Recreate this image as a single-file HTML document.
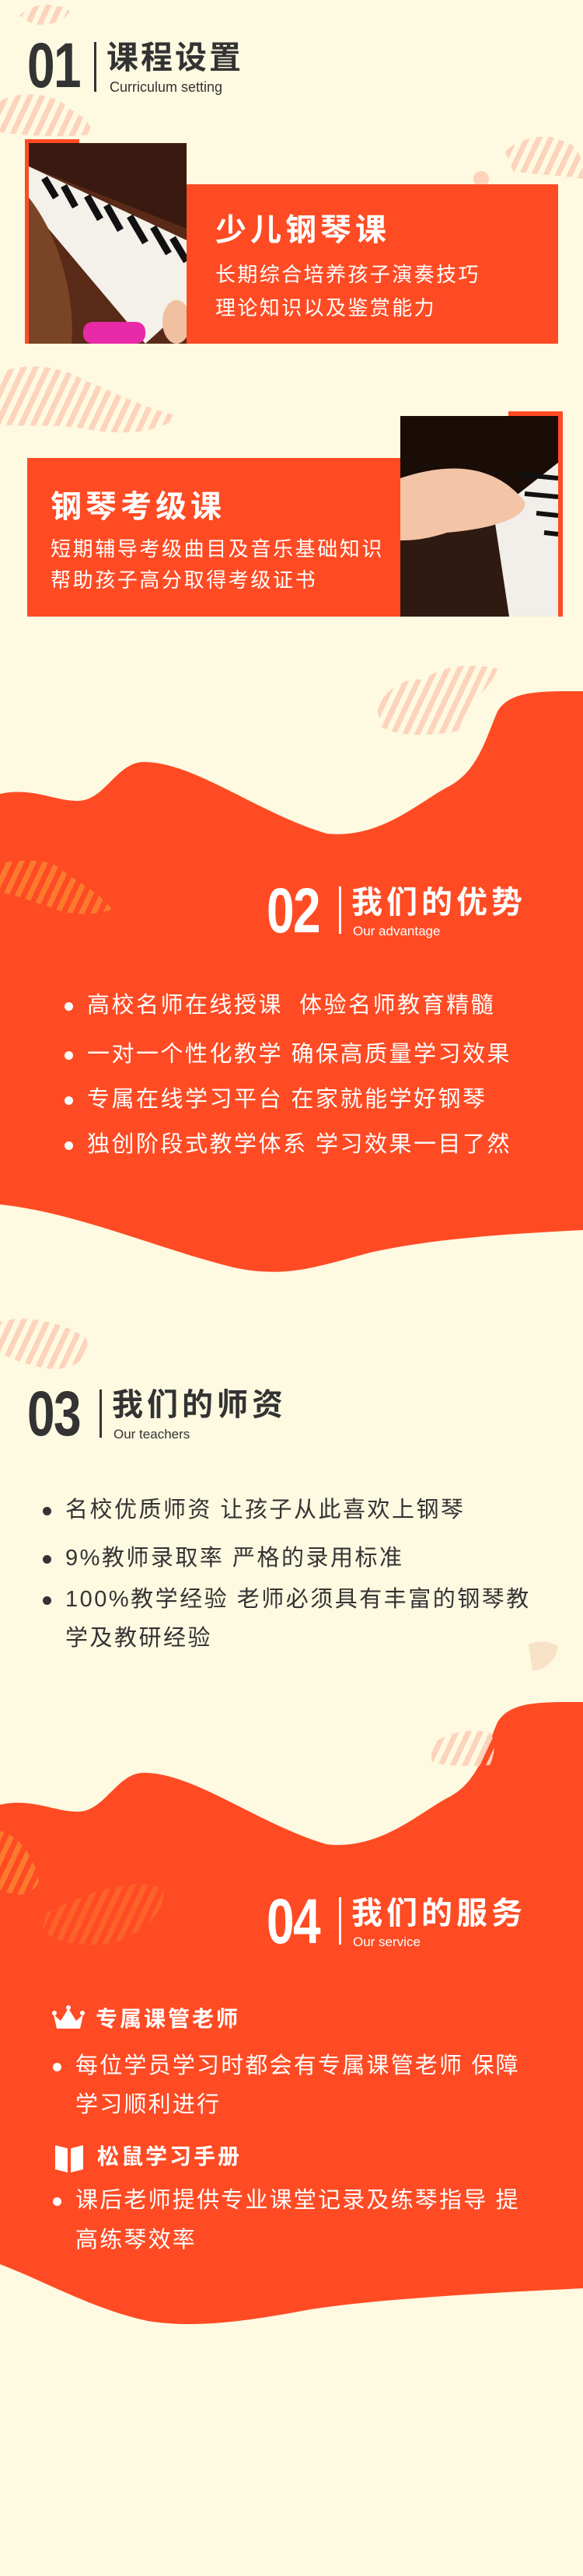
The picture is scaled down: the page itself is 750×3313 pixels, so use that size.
<!DOCTYPE html>
<html><head><meta charset="utf-8"><style>
*{margin:0;padding:0;box-sizing:border-box}
body{width:750px;height:3313px;background:#fef9e1;position:relative;overflow:hidden;font-family:"Liberation Sans","Noto Sans CJK SC",sans-serif}
.a{position:absolute}
.num{position:absolute;font-weight:bold;font-size:82px;line-height:1;transform:scaleX(.78);transform-origin:left top;letter-spacing:-2px}
.ttl{position:absolute;font-weight:bold;font-size:40px;line-height:1;letter-spacing:3px;white-space:nowrap}
.sub{position:absolute;font-size:18px;line-height:1;white-space:nowrap}
.div{position:absolute;width:3px}
.li{position:absolute;font-size:29px;line-height:1;letter-spacing:2.5px;white-space:nowrap}
.dot{position:absolute;width:11px;height:11px;border-radius:50%}
.w{color:#fff}.d{color:#333}
</style></head><body>
<svg class="a" style="left:0;top:0" width="750" height="3313">
<defs>
<pattern id="st" width="14" height="14" patternUnits="userSpaceOnUse" patternTransform="rotate(25)"><rect width="7" height="14" fill="#fdd3bb"/></pattern>
<pattern id="so" width="14" height="14" patternUnits="userSpaceOnUse" patternTransform="rotate(25)"><rect width="7" height="14" fill="#fb7a2e"/></pattern>
</defs>
<path d="M25,20 C40,5 70,0 90,15 C80,30 55,35 40,30 Z" fill="url(#st)"/>
<path d="M0,130 C30,115 70,120 90,140 C105,150 115,155 120,172 C90,178 40,175 0,170 Z" fill="url(#st)"/>
<path d="M650,195 C670,175 705,172 720,180 C740,185 750,195 750,230 C720,225 690,225 660,220 Z" fill="url(#st)"/>
<circle cx="619" cy="230" r="10" fill="#fdd3bb"/>
<path d="M0,480 C30,465 80,470 110,490 C140,500 170,520 230,535 C200,560 150,560 100,550 C60,545 20,550 0,545 Z" fill="url(#st)"/>
<path d="M0,1021 C40,1012 70,1030 100,1030 C135,1030 150,980 185,980 C250,980 330,1045 420,1072 C490,1080 540,1030 580,1010 C615,990 625,950 640,915 C655,890 690,890 720,889 L750,889 L750,1582 C650,1587 560,1593 480,1610 C410,1628 370,1645 300,1630 C200,1605 100,1560 0,1549 Z" fill="#fe4b24"/>
<path d="M485,910 C500,880 530,870 545,875 C560,860 600,850 640,860 C630,890 600,900 590,940 C560,945 520,950 490,935 Z" fill="url(#st)"/>
<path d="M0,1110 C30,1105 60,1105 75,1115 C90,1130 120,1140 145,1170 C110,1180 80,1175 60,1165 C40,1160 20,1150 0,1148 Z" fill="url(#so)"/>
<path d="M0,1700 C30,1690 80,1700 110,1720 C120,1740 100,1765 60,1760 C30,1755 10,1745 0,1740 Z" fill="url(#st)"/>
<path d="M0,2321 C40,2312 70,2330 100,2330 C135,2330 150,2280 185,2280 C250,2280 330,2345 420,2372 C490,2380 540,2330 580,2310 C615,2290 625,2250 640,2215 C655,2190 690,2190 720,2189 L750,2189 L750,2943 C650,2948 500,2955 400,2970 C320,2985 250,2995 190,2985 C120,2970 60,2935 0,2912 Z" fill="#fe4b24"/>
<path d="M555,2245 C570,2230 600,2222 630,2228 C640,2240 635,2260 630,2270 C600,2272 570,2272 555,2265 Z" fill="url(#st)"/>
<path d="M0,2355 C25,2360 45,2390 50,2420 C40,2440 20,2440 0,2430 Z" fill="url(#so)"/>
<path d="M60,2460 C100,2440 170,2410 210,2430 C215,2460 180,2490 140,2500 C100,2505 60,2495 55,2480 Z" fill="url(#so)" opacity=".5"/>
<path d="M680,2115 C690,2110 710,2110 718,2118 C715,2135 700,2150 685,2148 Z" fill="#f7e2c8"/>
</svg>

<div class="num d" style="left:35px;top:44px">01</div>
<div class="div" style="left:121px;top:54px;height:64px;background:#333"></div>
<div class="ttl d" style="left:137px;top:54px;font-size:41px">课程设置</div>
<div class="sub d" style="left:141px;top:103px">Curriculum setting</div>

<div class="a" style="left:32px;top:179px;width:70px;height:263px;background:#fe4b24"></div>
<svg class="a" style="left:37px;top:184px" width="203" height="258">
<rect width="203" height="258" fill="#3a1a10"/>
<polygon points="0,30 203,110 203,258 0,258" fill="#5a2a18"/>
<polygon points="0,30 203,125 203,210 150,258 0,80" fill="#f4f0ea"/>
<g stroke="#111" stroke-width="9"><line x1="20" y1="45" x2="35" y2="70"/><line x1="45" y1="55" x2="60" y2="82"/><line x1="75" y1="68" x2="92" y2="98"/><line x1="100" y1="80" x2="118" y2="112"/><line x1="130" y1="94" x2="150" y2="128"/><line x1="160" y1="108" x2="180" y2="142"/><line x1="185" y1="122" x2="203" y2="152"/></g>
<path d="M0,70 C40,120 60,200 55,258 L0,258 Z" fill="#7a4526"/>
<rect x="70" y="230" width="80" height="28" rx="12" fill="#e82aa8"/>
<ellipse cx="190" cy="230" rx="18" ry="28" fill="#f0c0a0"/>
</svg>
<div class="a" style="left:240px;top:237px;width:478px;height:205px;background:#fe4b24"></div>
<div class="ttl w" style="left:277px;top:276px;font-size:40px;letter-spacing:5px">少儿钢琴课</div>
<div class="li w" style="left:277px;top:340px;font-size:26px;letter-spacing:2.4px">长期综合培养孩子演奏技巧</div>
<div class="li w" style="left:277px;top:383px;font-size:26px;letter-spacing:2.4px">理论知识以及鉴赏能力</div>

<div class="a" style="left:654px;top:529px;width:70px;height:264px;background:#fe4b24"></div>
<div class="a" style="left:35px;top:589px;width:480px;height:204px;background:#fe4b24"></div>
<svg class="a" style="left:515px;top:535px" width="203" height="258">
<rect width="203" height="258" fill="#1a0c06"/>
<rect y="140" width="203" height="118" fill="#2e1a10"/>
<polygon points="120,125 203,60 203,258 140,258" fill="#f2eeea"/>
<g stroke="#111" stroke-width="6"><line x1="150" y1="75" x2="203" y2="80"/><line x1="160" y1="100" x2="203" y2="104"/><line x1="175" y1="125" x2="203" y2="128"/><line x1="185" y1="150" x2="203" y2="152"/></g>
<path d="M0,80 C60,60 120,60 160,110 C165,130 120,145 60,150 C30,160 10,160 0,160 Z" fill="#f3c4a6"/>
</svg>
<div class="ttl w" style="left:65px;top:632px;font-size:40px;letter-spacing:5px">钢琴考级课</div>
<div class="li w" style="left:65px;top:693px;font-size:26px;letter-spacing:2.6px">短期辅导考级曲目及音乐基础知识</div>
<div class="li w" style="left:65px;top:733px;font-size:26px;letter-spacing:2.6px">帮助孩子高分取得考级证书</div>

<div class="num w" style="left:343px;top:1131px">02</div>
<div class="div" style="left:436px;top:1140px;height:61px;background:#fff"></div>
<div class="ttl w" style="left:452px;top:1141px;font-size:40px;letter-spacing:5px">我们的优势</div>
<div class="sub w" style="left:454px;top:1189px;font-size:17px">Our advantage</div>
<div class="dot" style="left:83px;top:1289px;background:#fff"></div>
<div class="li w" style="left:112px;top:1279px">高校名师在线授课&nbsp; 体验名师教育精髓</div>
<div class="dot" style="left:83px;top:1352px;background:#fff"></div>
<div class="li w" style="left:112px;top:1342px">一对一个性化教学 确保高质量学习效果</div>
<div class="dot" style="left:83px;top:1410px;background:#fff"></div>
<div class="li w" style="left:112px;top:1400px">专属在线学习平台 在家就能学好钢琴</div>
<div class="dot" style="left:83px;top:1468px;background:#fff"></div>
<div class="li w" style="left:112px;top:1458px">独创阶段式教学体系 学习效果一目了然</div>

<div class="num d" style="left:35px;top:1778px">03</div>
<div class="div" style="left:128px;top:1787px;height:62px;background:#333"></div>
<div class="ttl d" style="left:144px;top:1787px;font-size:40px;letter-spacing:5px">我们的师资</div>
<div class="sub d" style="left:146px;top:1836px;font-size:17px">Our teachers</div>
<div class="dot" style="left:55px;top:1938px;background:#333"></div>
<div class="li d" style="left:84px;top:1928px">名校优质师资 让孩子从此喜欢上钢琴</div>
<div class="dot" style="left:55px;top:2000px;background:#333"></div>
<div class="li d" style="left:84px;top:1990px">9%教师录取率 严格的录用标准</div>
<div class="dot" style="left:55px;top:2053px;background:#333"></div>
<div class="li d" style="left:84px;top:2043px">100%教学经验 老师必须具有丰富的钢琴教</div>
<div class="li d" style="left:84px;top:2093px">学及教研经验</div>

<div class="num w" style="left:343px;top:2431px">04</div>
<div class="div" style="left:436px;top:2440px;height:61px;background:#fff"></div>
<div class="ttl w" style="left:452px;top:2441px;font-size:40px;letter-spacing:5px">我们的服务</div>
<div class="sub w" style="left:454px;top:2489px;font-size:17px">Our service</div>

<svg class="a" style="left:67px;top:2579px" width="42" height="32"><path d="M2,12 L11,20 L21,4 L31,20 L40,12 L36,30 L6,30 Z" fill="#fff"/><circle cx="21" cy="3" r="3" fill="#fff"/><circle cx="3" cy="10" r="3" fill="#fff"/><circle cx="39" cy="10" r="3" fill="#fff"/></svg>
<div class="ttl w" style="left:123px;top:2583px;font-size:28px;letter-spacing:3px">专属课管老师</div>
<div class="dot" style="left:68px;top:2653px;background:#fff"></div>
<div class="li w" style="left:97px;top:2643px;letter-spacing:2.2px">每位学员学习时都会有专属课管老师 保障</div>
<div class="li w" style="left:97px;top:2693px;letter-spacing:2.2px">学习顺利进行</div>
<svg class="a" style="left:70px;top:2755px" width="38" height="40"><path d="M1,4 L17,8 L17,39 L1,35 Z M21,8 L37,4 L37,35 L21,39 Z" fill="#fff"/></svg>
<div class="ttl w" style="left:125px;top:2760px;font-size:28px;letter-spacing:3px">松鼠学习手册</div>
<div class="dot" style="left:68px;top:2826px;background:#fff"></div>
<div class="li w" style="left:97px;top:2816px;letter-spacing:2.2px">课后老师提供专业课堂记录及练琴指导 提</div>
<div class="li w" style="left:97px;top:2867px;letter-spacing:2.2px">高练琴效率</div>
</body></html>
